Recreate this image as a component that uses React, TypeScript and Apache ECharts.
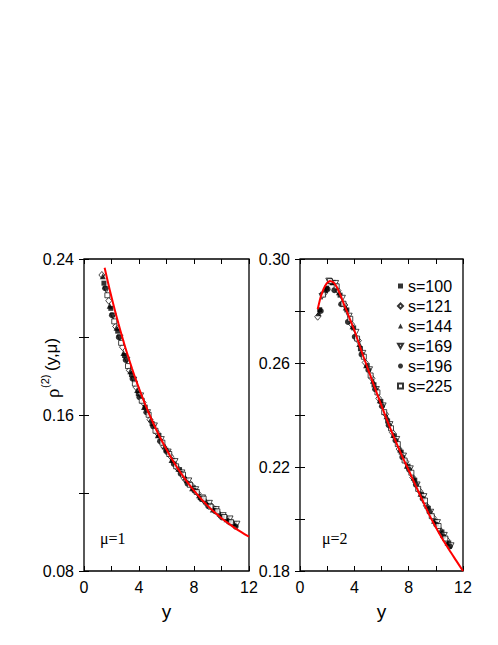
import React, { useEffect, useRef } from "react";
import * as echarts from "echarts";

// Series names (legend)
const names = ["s=100", "s=121", "s=144", "s=169", "s=196", "s=225"];

// x positions of the data points of each series (shared by both panels)
const x100 = [1.45, 1.95, 2.45, 2.95, 3.45, 3.95, 4.45, 4.95, 5.45, 5.95, 6.45, 6.95, 7.45, 7.95, 8.45, 8.95, 9.45, 9.95, 10.45, 10.95];
const x121 = [1.30, 1.80, 2.30, 2.80, 3.30, 3.80, 4.30, 4.80, 5.30, 5.80, 6.30, 6.80, 7.30, 7.80, 8.30, 8.80, 9.30, 9.80, 10.30, 10.80];
const x144 = [1.37, 1.87, 2.37, 2.87, 3.37, 3.87, 4.37, 4.87, 5.37, 5.87, 6.37, 6.87, 7.37, 7.87, 8.37, 8.87, 9.37, 9.87, 10.37, 10.87];
const x169 = [1.62, 2.12, 2.62, 3.12, 3.62, 4.12, 4.62, 5.12, 5.62, 6.12, 6.62, 7.12, 7.62, 8.12, 8.62, 9.12, 9.62, 10.12, 10.62, 11.12];
const x196 = [1.53, 2.03, 2.53, 3.03, 3.53, 4.03, 4.53, 5.03, 5.53, 6.03, 6.53, 7.03, 7.53, 8.03, 8.53, 9.03, 9.53, 10.03, 10.53, 11.03];
const x225 = [1.70, 2.20, 2.70, 3.20, 3.70, 4.20, 4.70, 5.20, 5.70, 6.20, 6.70, 7.20, 7.70, 8.20, 8.70, 9.20, 9.70, 10.20, 10.70];

// Left panel (mu = 1)
const L100 = [0.2276, 0.2147, 0.2030, 0.1905, 0.1807, 0.1709, 0.1640, 0.1556, 0.1495, 0.1420, 0.1368, 0.1320, 0.1263, 0.1227, 0.1177, 0.1150, 0.1121, 0.1084, 0.1069, 0.1042];
const L121 = [0.2318, 0.2186, 0.2054, 0.1948, 0.1829, 0.1742, 0.1664, 0.1576, 0.1510, 0.1437, 0.1388, 0.1327, 0.1274, 0.1241, 0.1197, 0.1154, 0.1130, 0.1093, 0.1074, 0.1045];
const L144 = [0.2312, 0.2160, 0.2047, 0.1918, 0.1825, 0.1728, 0.1641, 0.1578, 0.1496, 0.1440, 0.1369, 0.1324, 0.1279, 0.1225, 0.1189, 0.1158, 0.1115, 0.1095, 0.1065, 0.1047];
const L169 = [0.2242, 0.2107, 0.1995, 0.1881, 0.1779, 0.1698, 0.1612, 0.1544, 0.1474, 0.1410, 0.1361, 0.1303, 0.1262, 0.1217, 0.1175, 0.1147, 0.1115, 0.1084, 0.1067, 0.1040];
const L196 = [0.2250, 0.2112, 0.1999, 0.1882, 0.1786, 0.1691, 0.1614, 0.1541, 0.1466, 0.1411, 0.1349, 0.1299, 0.1248, 0.1212, 0.1169, 0.1133, 0.1107, 0.1075, 0.1053, 0.1028];
const L225 = [0.2214, 0.2080, 0.1970, 0.1851, 0.1761, 0.1673, 0.1601, 0.1519, 0.1458, 0.1400, 0.1337, 0.1294, 0.1242, 0.1205, 0.1171, 0.1130, 0.1106, 0.1077, 0.1050];
const fitLx = [1.5, 1.75, 2, 2.25, 2.5, 2.75, 3, 3.25, 3.5, 3.75, 4, 4.5, 5, 5.5, 6, 6.5, 7, 7.5, 8, 8.5, 9, 9.5, 10, 10.5, 11, 11.5, 12];
const fitLy = [0.2355, 0.2278, 0.2205, 0.2136, 0.2070, 0.2007, 0.1947, 0.1891, 0.1837, 0.1785, 0.1737, 0.1646, 0.1564, 0.1490, 0.1423, 0.1362, 0.1307, 0.1257, 0.1212, 0.1171, 0.1134, 0.1101, 0.1071, 0.1044, 0.1019, 0.0997, 0.0976];

// Right panel (mu = 2)
const R100 = [0.2805, 0.2888, 0.2910, 0.2861, 0.2804, 0.2735, 0.2655, 0.2590, 0.2516, 0.2452, 0.2377, 0.2320, 0.2257, 0.2203, 0.2149, 0.2095, 0.2041, 0.1992, 0.1950, 0.1908];
const R121 = [0.2778, 0.2869, 0.2913, 0.2878, 0.2823, 0.2749, 0.2686, 0.2602, 0.2541, 0.2464, 0.2403, 0.2333, 0.2269, 0.2220, 0.2160, 0.2108, 0.2051, 0.2006, 0.1958, 0.1920];
const R144 = [0.2791, 0.2881, 0.2911, 0.2872, 0.2813, 0.2741, 0.2673, 0.2591, 0.2532, 0.2457, 0.2395, 0.2323, 0.2267, 0.2205, 0.2159, 0.2097, 0.2051, 0.1993, 0.1956, 0.1909];
const R169 = [0.2856, 0.2915, 0.2906, 0.2849, 0.2780, 0.2718, 0.2637, 0.2574, 0.2498, 0.2435, 0.2363, 0.2306, 0.2242, 0.2193, 0.2131, 0.2086, 0.2026, 0.1986, 0.1937, 0.1897];
const R196 = [0.2800, 0.2884, 0.2880, 0.2826, 0.2758, 0.2701, 0.2633, 0.2573, 0.2499, 0.2434, 0.2361, 0.2302, 0.2238, 0.2190, 0.2132, 0.2078, 0.2027, 0.1978, 0.1934, 0.1895];
const R225 = [0.2863, 0.2915, 0.2895, 0.2828, 0.2770, 0.2694, 0.2624, 0.2552, 0.2487, 0.2411, 0.2349, 0.2288, 0.2225, 0.2178, 0.2116, 0.2071, 0.2011, 0.1973, 0.1925];
const fitRx = [1.3, 1.4, 1.5, 1.6, 1.7, 1.8, 1.9, 2.0, 2.1, 2.2, 2.3, 2.4, 2.5, 2.6, 2.7, 2.8, 2.9, 3.0, 3.25, 3.5, 3.75, 4.0, 4.5, 5, 5.5, 6, 6.5, 7, 7.5, 8, 8.5, 9, 9.5, 10, 10.5, 11, 11.5, 12];
const fitRy = [0.2807, 0.2829, 0.2850, 0.2866, 0.2880, 0.2892, 0.2901, 0.2908, 0.2912, 0.2915, 0.2914, 0.2912, 0.2908, 0.2901, 0.2893, 0.2882, 0.2870, 0.2858, 0.2824, 0.2792, 0.2759, 0.2726, 0.2650, 0.2577, 0.2506, 0.2436, 0.2368, 0.2304, 0.2244, 0.2188, 0.2130, 0.2074, 0.2018, 0.1968, 0.1922, 0.1880, 0.1840, 0.1800];

const xTicks = [0, 4, 8, 12];

const SANS = "Liberation Sans";
const SERIF = "Liberation Serif";

const xsList = [x100, x121, x144, x169, x196, x225];
const leftList = [L100, L121, L144, L169, L196, L225];
const rightList = [R100, R121, R144, R169, R196, R225];

const filled = { color: "#000", borderColor: "#000", borderWidth: 0 };
const empty = { color: "#fff", borderColor: "#000", borderWidth: 0.9 };
const markers = [
  { symbol: "rect", size: 5, style: filled },
  { symbol: "diamond", size: [6, 7], style: empty },
  { symbol: "triangle", size: 6, style: filled },
  { symbol: "path://M0,0L10,0L5,9Z", size: [6, 6], style: empty },
  { symbol: "circle", size: 6, style: filled },
  { symbol: "rect", size: 5, style: empty },
];

function zip(xs: number[], ys: number[]) {
  return ys.map((y, i) => [xs[i], y]);
}

export default function App() {
  const ref = useRef<HTMLDivElement>(null);
  useEffect(() => {
    if (!ref.current) return;
    const chart = echarts.init(ref.current, undefined, { renderer: "svg" });

    const tickStyle = { show: true, inside: true, length: 5, lineStyle: { color: "#000", width: 1 } };
    const labelBase = { color: "#000", fontSize: 16, fontFamily: SANS };

    const makeX = (grid: number, pos: "bottom" | "top") => ({
      type: "value",
      gridIndex: grid,
      position: pos,
      min: 0,
      max: 12,
      interval: 2,
      axisLine: { show: false },
      axisTick: tickStyle,
      splitLine: { show: false },
      axisLabel:
        pos === "bottom"
          ? { ...labelBase, margin: 8, formatter: (v: number) => (xTicks.includes(v) ? String(v) : "") }
          : { show: false },
      name: pos === "bottom" ? "y" : "",
      nameLocation: "middle",
      nameGap: 31,
      nameTextStyle: { color: "#000", fontSize: 19, fontFamily: SANS },
    });

    const makeY = (grid: number, pos: "left" | "right", min: number, max: number, interval: number, labelFn: (v: number) => boolean) => ({
      type: "value",
      gridIndex: grid,
      position: pos,
      min,
      max,
      interval,
      axisLine: { show: false },
      axisTick: tickStyle,
      splitLine: { show: false },
      axisLabel:
        pos === "left"
          ? { ...labelBase, margin: 10, formatter: (v: number) => (labelFn(v) ? v.toFixed(2) : "") }
          : { show: false },
    });

    const leftLabel = (v: number) => Math.round(v * 100) % 8 === 0;
    const rightLabel = (v: number) => Math.round(v * 100) % 4 === 2;

    const series: any[] = [];
    names.forEach((n, i) => {
      const m = markers[i];
      series.push({
        type: "scatter",
        name: n,
        xAxisIndex: 0,
        yAxisIndex: 0,
        symbol: m.symbol,
        symbolSize: m.size,
        itemStyle: m.style,
        data: zip(xsList[i], leftList[i]),
        z: 2,
      });
      series.push({
        type: "scatter",
        name: n,
        xAxisIndex: 2,
        yAxisIndex: 2,
        symbol: m.symbol,
        symbolSize: m.size,
        itemStyle: m.style,
        data: zip(xsList[i], rightList[i]),
        z: 2,
      });
    });
    series.push({
      type: "line",
      name: "fit mu=1",
      xAxisIndex: 0,
      yAxisIndex: 0,
      showSymbol: false,
      smooth: 0.3,
      lineStyle: { color: "#ff0000", width: 2 },
      data: zip(fitLx, fitLy),
      z: 5,
    });
    series.push({
      type: "line",
      name: "fit mu=2",
      xAxisIndex: 2,
      yAxisIndex: 2,
      showSymbol: false,
      smooth: 0.3,
      lineStyle: { color: "#ff0000", width: 2 },
      data: zip(fitRx, fitRy),
      z: 5,
    });

    chart.setOption({
      animation: false,
      backgroundColor: "#fff",
      grid: [
        { left: 84, top: 259, width: 165, height: 312, show: true, borderColor: "#000", borderWidth: 1.3 },
        { left: 300, top: 259, width: 163, height: 312, show: true, borderColor: "#000", borderWidth: 1.3 },
      ],
      xAxis: [makeX(0, "bottom"), makeX(0, "top"), makeX(1, "bottom"), makeX(1, "top")],
      yAxis: [
        makeY(0, "left", 0.08, 0.24, 0.04, leftLabel),
        makeY(0, "right", 0.08, 0.24, 0.04, leftLabel),
        makeY(1, "left", 0.18, 0.3, 0.02, rightLabel),
        makeY(1, "right", 0.18, 0.3, 0.02, rightLabel),
      ],
      legend: {
        data: names,
        orient: "vertical",
        left: 397,
        top: 278,
        padding: 0,
        itemWidth: 5,
        itemHeight: 5,
        itemGap: 4,
        textStyle: { color: "#000", fontSize: 16, fontFamily: SANS, lineHeight: 16 },
      },
      graphic: [
        {
          type: "text",
          x: 100,
          y: 538,
          style: { text: "μ=1", fill: "#000", fontSize: 16, fontFamily: SERIF, textAlign: "left", textVerticalAlign: "middle", align: "left", verticalAlign: "middle" },
        },
        {
          type: "text",
          x: 322,
          y: 538,
          style: { text: "μ=2", fill: "#000", fontSize: 16, fontFamily: SERIF, textAlign: "left", textVerticalAlign: "middle", align: "left", verticalAlign: "middle" },
        },
        {
          type: "group",
          x: 51,
          y: 398,
          rotation: Math.PI / 2,
          children: [
            {
              type: "text",
              x: 0,
              y: 1,
              style: { text: "ρ", fill: "#000", fontSize: 19, fontFamily: SERIF, textAlign: "left", textVerticalAlign: "middle", align: "left", verticalAlign: "middle" },
            },
            {
              type: "text",
              x: 10,
              y: -6,
              style: { text: "(2)", fill: "#000", fontSize: 11, fontFamily: SANS, textAlign: "left", textVerticalAlign: "middle", align: "left", verticalAlign: "middle" },
            },
            {
              type: "text",
              x: 27,
              y: 0,
              style: { text: "(y,μ)", fill: "#000", fontSize: 17, fontFamily: SANS, textAlign: "left", textVerticalAlign: "middle", align: "left", verticalAlign: "middle" },
            },
          ],
        },
      ],
      series,
    });

    return () => chart.dispose();
  }, []);

  return <div ref={ref} style={{ position: "fixed", left: 0, top: 0, width: 498, height: 645, background: "#fff" }} />;
}
